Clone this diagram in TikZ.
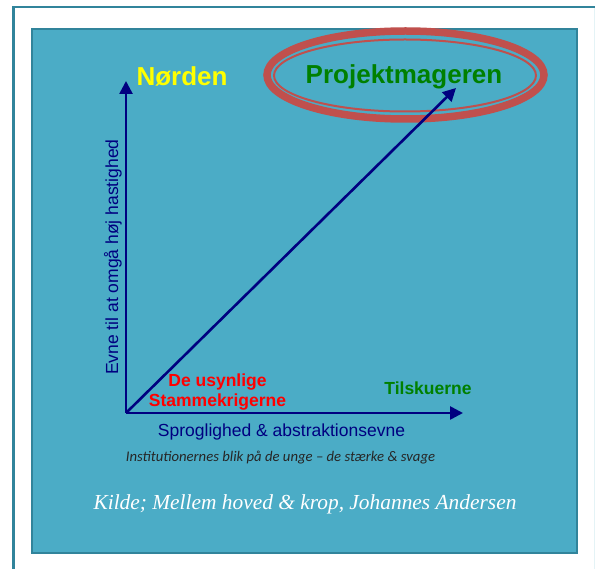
\documentclass[tikz,border=0pt]{standalone}
\usepackage{fontspec}
\setmainfont{Liberation Sans}
\newfontfamily\calib{Carlito}
\newfontfamily\tnr{Liberation Serif}
\usetikzlibrary{arrows.meta}
\definecolor{panel}{HTML}{4BACC6}
\definecolor{panelborder}{HTML}{31849B}
\definecolor{ringred}{HTML}{C0504D}
\definecolor{axisblue}{HTML}{000080}
\definecolor{labgreen}{HTML}{008000}
\definecolor{labred}{HTML}{FF0000}
\definecolor{labyellow}{HTML}{FFFF00}
\begin{document}
\begin{tikzpicture}[x=1pt,y=-1pt,
  axis/.style={draw=axisblue,line width=2.6pt,-{Triangle[length=13pt,width=13pt]}},
  lab/.style={inner sep=0pt,anchor=base},
  bigbold/.style={lab,font=\fontsize{26}{30}\selectfont\bfseries},
  midbold/.style={lab,font=\fontsize{17.5}{20}\selectfont\bfseries},
  midreg/.style={lab,font=\fontsize{17.5}{20}\selectfont,text=axisblue},
]
\useasboundingbox (0,0) rectangle (595,569);
\fill[white] (0,0) rectangle (595,569);
% outer frame
\draw[panelborder,line width=2.2pt] (13.5,569) -- (13.5,7) -- (595,7);
\draw[panel!15,line width=1pt] (594,8) -- (594,569);
% panel
\draw[fill=panel,draw=panelborder,line width=2pt] (32,29) rectangle (577,553);
% ring
\draw[ringred,line width=7.5pt] (405.5,75) ellipse [x radius=138.5pt, y radius=44pt];
\draw[ringred,line width=2pt] (405,75.5) ellipse [x radius=131pt, y radius=36pt];
% axes
\coordinate (O) at (126,413);
\coordinate (ytip) at (126,81);
\coordinate (xtip) at (463,413);
\coordinate (dtip) at (456,88);
\draw[axis] (O) -- (ytip);
\draw[axis] (O) -- (xtip);
\draw[axis] (O) -- (dtip);
% labels
\node[bigbold,text=labyellow] (nord) at (182,86) {Nørden};
\node[bigbold,text=labgreen] (proj) at (404,84) {Projektmageren};
\node[midbold,text=labgreen] (tils) at (428,395) {Tilskuerne};
\node[midbold,text=labred] (usyn1) at (217.5,387) {De usynlige};
\node[midbold,text=labred] (usyn2) at (217.5,407) {Stammekrigerne};
\node[midreg] (xlab) at (281.5,437) {Sproglighed \& abstraktionsevne};
\node[midreg,rotate=90,anchor=base west] (ylab) at (118,375) {Evne til at omgå høj hastighed};
\node[lab,font=\calib\itshape\fontsize{14.7}{17}\selectfont,text=black!85] (inst) at (280.5,462) {Institutionernes blik på de unge – de stærke \& svage};
\node[lab,font=\tnr\itshape\fontsize{21.4}{25}\selectfont,text=white] (kilde) at (305,509) {Kilde; Mellem hoved \& krop, Johannes Andersen};
\end{tikzpicture}
\end{document}
